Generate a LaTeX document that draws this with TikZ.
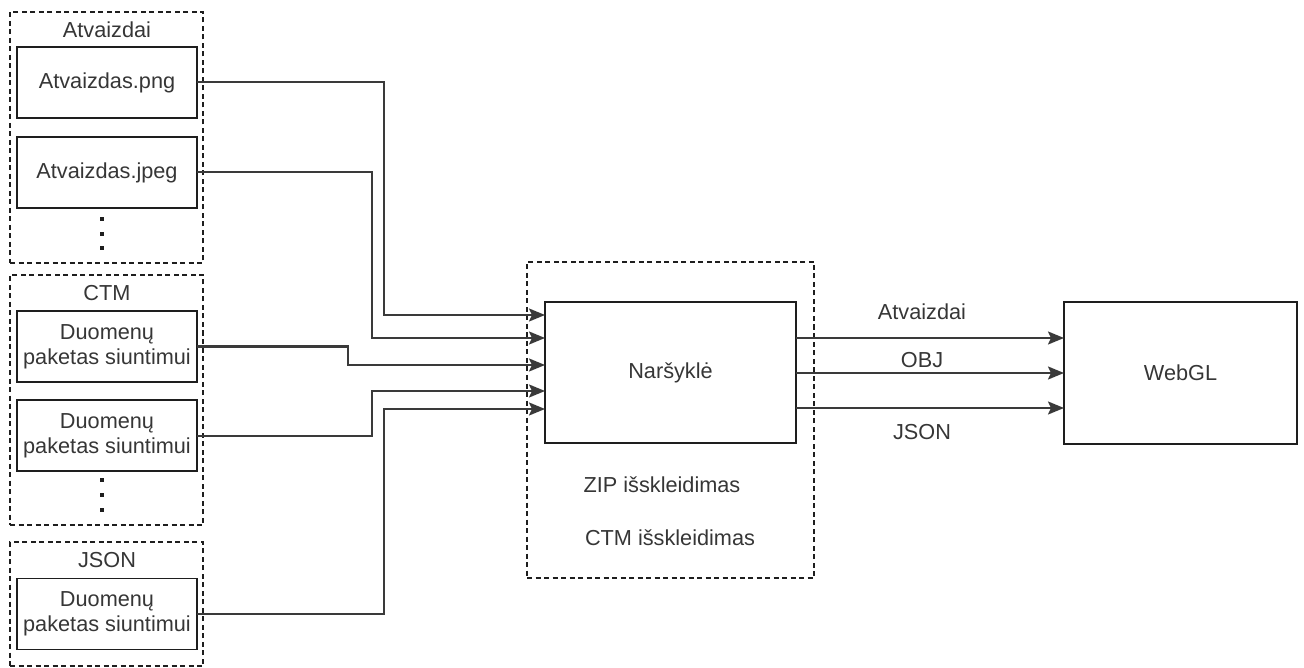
\documentclass[tikz,border=0pt]{standalone}
\usepackage{fontspec}
\setmainfont{Liberation Sans}
\usetikzlibrary{arrows.meta}
\definecolor{txt}{HTML}{363636}
\definecolor{edge}{HTML}{1E1E1E}
\definecolor{wire}{HTML}{3A3A3A}
\begin{document}
\begin{tikzpicture}[x=1pt,y=-1pt,
  every node/.style={font=\fontsize{21.7}{25}\selectfont, text=txt, inner sep=0pt, outer sep=0pt},
  group/.style={draw=edge, line width=1.7pt, dash pattern=on 5pt off 3.5pt, rectangle},
  filebox/.style={draw=edge, line width=1.9pt, rectangle, minimum width=180pt, minimum height=71pt, align=center},
  mainbox/.style={draw=edge, line width=1.9pt, rectangle},
  label/.style={align=center},
  dotmark/.style={fill=edge, draw=none, minimum size=4.2pt, rectangle},
  conn/.style={draw=wire, line width=2pt, -{Stealth[length=16pt,width=13pt,inset=3pt]}}
]
\useasboundingbox (0,0) rectangle (1304,668);

% image group
\node[group, minimum width=193pt, minimum height=251pt] (g1) at (106.5,137.5) {};
\node[label] (t1) at (107,30) {Atvaizdai};
\node[filebox] (b1) at (107,82.5) {Atvaizdas.png};
\node[filebox] (b2) at (107,172.5) {Atvaizdas.jpeg};
\node[dotmark] (d1a) at (102,219) {};
\node[dotmark] (d1b) at (102,234) {};
\node[dotmark] (d1c) at (102,248) {};

% CTM group
\node[group, minimum width=193pt, minimum height=250pt] (g2) at (106.5,400) {};
\node[label] (t2) at (107,293) {CTM};
\node[filebox] (b3) at (107,346.5) {Duomenų\\paketas siuntimui};
\node[filebox] (b4) at (107,435.5) {Duomenų\\paketas siuntimui};
\node[dotmark] (d2a) at (102,480) {};
\node[dotmark] (d2b) at (102,495) {};
\node[dotmark] (d2c) at (102,510) {};

% JSON group
\node[group, minimum width=193pt, minimum height=124pt] (g3) at (106.5,604) {};
\node[label] (t3) at (107,560) {JSON};
\node[filebox] (b5) at (107,614) {Duomenų\\paketas siuntimui};

% browser
\node[group, minimum width=287pt, minimum height=316pt] (ng) at (670.5,420) {};
\node[mainbox, minimum width=251pt, minimum height=141pt] (nar) at (670.5,372.5) {Naršyklė};
\node[label] (zip) at (662,485) {ZIP išskleidimas};
\node[label] (ctm) at (670,538) {CTM išskleidimas};

% WebGL
\node[mainbox, minimum width=233pt, minimum height=142pt] (gl) at (1180.5,373) {WebGL};

% inputs into the browser
\draw[conn] (b1.east) -- (384,82.5) |- (nar.west |- 0,315);
\draw[conn] (b2.east) -- (372,172.5) |- (nar.west |- 0,338);
\draw[conn] (b3.east) -- (348,346.5) |- (nar.west |- 0,365);
\draw[conn] (b4.east) -- (372,435.5) |- (nar.west |- 0,391);
\draw[conn] (b5.east) -- (384,614) |- (nar.west |- 0,409);

% outputs to WebGL
\draw[conn] (nar.east |- 0,338) -- (gl.west |- 0,338);
\draw[conn] (nar.east |- 0,373) -- (gl.west |- 0,373);
\draw[conn] (nar.east |- 0,408) -- (gl.west |- 0,408);
\node[label] (l1) at (922,312) {Atvaizdai};
\node[label] (l2) at (922,360) {OBJ};
\node[label] (l3) at (922,432) {JSON};
\end{tikzpicture}
\end{document}
